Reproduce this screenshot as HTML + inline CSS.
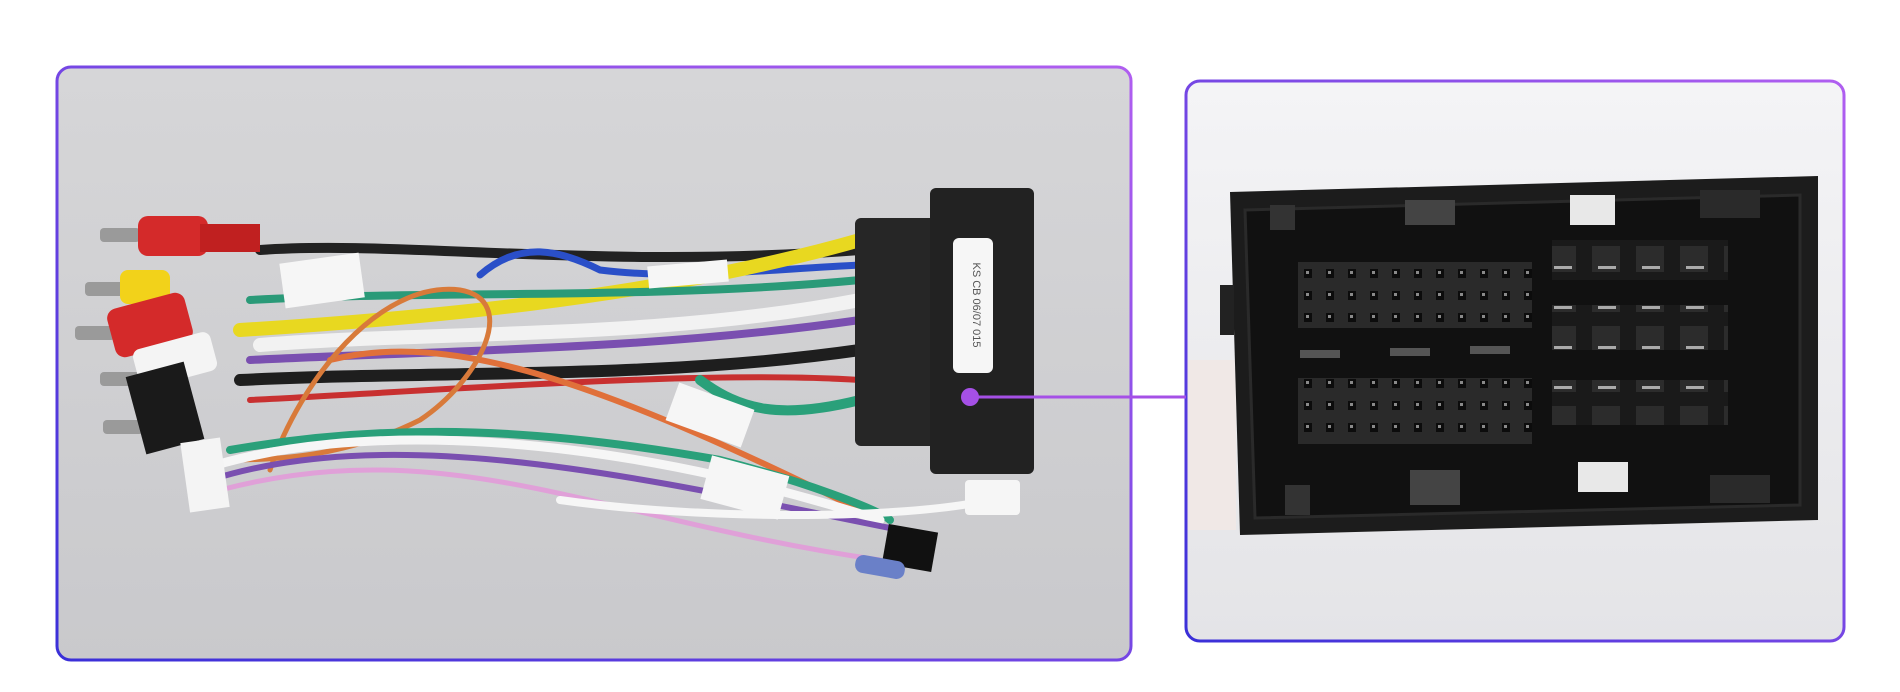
<!DOCTYPE html>
<html><head><meta charset="utf-8"><style>
html,body{margin:0;padding:0;background:#fff;width:1900px;height:692px;overflow:hidden}
</style></head><body>
<svg width="1900" height="692" viewBox="0 0 1900 692" xmlns="http://www.w3.org/2000/svg">
<defs>
<linearGradient id="bd" x1="0" y1="1" x2="1" y2="0">
<stop offset="0" stop-color="#3a2fd8"/><stop offset="1" stop-color="#b05ef0"/></linearGradient>
<linearGradient id="bgL" x1="0" y1="0" x2="0" y2="1"><stop offset="0" stop-color="#d6d6d8"/><stop offset="1" stop-color="#c9c9cc"/></linearGradient>
<linearGradient id="bgR" x1="0" y1="0" x2="0" y2="1"><stop offset="0" stop-color="#f4f4f6"/><stop offset="1" stop-color="#e4e4e7"/></linearGradient>
<clipPath id="cl"><rect x="57" y="67" width="1074" height="593" rx="14"/></clipPath>
<clipPath id="cr"><rect x="1186" y="81" width="658" height="560" rx="14"/></clipPath>
<pattern id="pins" width="22" height="22" patternUnits="userSpaceOnUse">
<rect width="22" height="22" fill="#2a2a2a"/><rect x="6" y="5" width="8" height="9" fill="#0c0c0c"/><rect x="8" y="7" width="3" height="3" fill="#8a8a8a"/></pattern>
<pattern id="pins2" width="44" height="40" patternUnits="userSpaceOnUse">
<rect width="44" height="40" fill="#1a1a1a"/><rect x="8" y="6" width="28" height="26" fill="#2c2c2c"/><rect x="14" y="26" width="18" height="3" fill="#aaa"/></pattern>
</defs>
<rect x="57" y="67" width="1074" height="593" rx="14" fill="url(#bgL)"/>
<g clip-path="url(#cl)" fill="none" stroke-linecap="round">
<path d="M260 250 C400 240 600 270 860 250" stroke="#222" stroke-width="10"/>
<path d="M480 275 C520 240 560 250 600 270 C680 280 760 270 860 265" stroke="#2a4fc8" stroke-width="7"/>
<path d="M240 330 C400 320 650 300 860 240" stroke="#e8d820" stroke-width="14"/>
<path d="M250 300 C420 290 650 300 860 280" stroke="#2a9a78" stroke-width="8"/>
<path d="M260 345 C450 330 650 340 860 300" stroke="#f2f2f2" stroke-width="14"/>
<path d="M250 360 C450 350 650 350 860 320" stroke="#7a4fb0" stroke-width="8"/>
<path d="M240 380 C450 370 650 380 860 350" stroke="#1e1e1e" stroke-width="12"/>
<path d="M250 400 C450 390 700 370 860 380" stroke="#c83030" stroke-width="6"/>
<path d="M700 380 C740 410 780 420 860 400" stroke="#2aa07a" stroke-width="10"/>
<path d="M330 360 C450 330 600 380 880 520" stroke="#e0703a" stroke-width="6"/>
<path d="M270 470 C300 380 380 280 460 290 C520 300 480 380 420 420 C360 450 300 460 230 460" stroke="#d87a3a" stroke-width="5"/>
<path d="M230 450 C400 420 550 430 720 460 C800 480 880 510 890 520" stroke="#2aa07a" stroke-width="8"/>
<path d="M200 470 C350 420 600 430 880 520" stroke="#f6f6f6" stroke-width="9"/>
<path d="M210 480 C400 420 650 480 900 530" stroke="#7a4fb0" stroke-width="6"/>
<path d="M220 490 C450 430 600 520 880 560" stroke="#e0a0d8" stroke-width="5"/>
<path d="M560 500 C700 520 900 520 990 500" stroke="#f6f6f6" stroke-width="8"/>
</g>
<g>
<rect x="100" y="228" width="40" height="14" fill="#9a9a9a" rx="4"/><rect x="138" y="216" width="70" height="40" rx="10" fill="#d42a2a"/><rect x="200" y="224" width="60" height="28" fill="#c02020"/>
<rect x="85" y="282" width="40" height="14" fill="#9a9a9a" rx="4"/><rect x="120" y="270" width="50" height="34" rx="8" fill="#f2d21a"/>
<rect x="75" y="326" width="40" height="14" fill="#9a9a9a" rx="4"/><rect x="110" y="300" width="80" height="50" rx="10" fill="#d42a2a" transform="rotate(-15 150 325)"/>
<rect x="100" y="372" width="40" height="14" fill="#9a9a9a" rx="4"/><rect x="135" y="340" width="80" height="40" rx="8" fill="#f4f4f4" transform="rotate(-15 175 360)"/>
<rect x="103" y="420" width="40" height="14" fill="#9a9a9a" rx="4"/><rect x="135" y="368" width="60" height="80" fill="#1a1a1a" transform="rotate(-15 165 408)"/>
<rect x="185" y="440" width="40" height="70" fill="#f4f4f4" transform="rotate(-8 205 475)"/>
</g>
<g fill="#f6f6f6">
<rect x="282" y="258" width="80" height="45" transform="rotate(-8 322 280)"/>
<rect x="648" y="263" width="80" height="22" transform="rotate(-5 688 274)"/>
<rect x="670" y="395" width="80" height="40" transform="rotate(20 710 415)"/>
<rect x="705" y="465" width="80" height="45" transform="rotate(15 745 487)"/>
<rect x="965" y="480" width="55" height="35" rx="4"/>
</g>
<rect x="885" y="528" width="50" height="40" fill="#111" transform="rotate(10 910 548)"/>
<rect x="855" y="558" width="50" height="18" rx="8" fill="#6a80c8" transform="rotate(10 880 567)"/>
<rect x="855" y="218" width="120" height="228" rx="6" fill="#262626"/>
<rect x="930" y="188" width="104" height="286" rx="6" fill="#222"/>
<rect x="953" y="238" width="40" height="135" rx="6" fill="#f6f6f6"/>
<text x="973" y="305" transform="rotate(90 973 305)" font-family="Liberation Sans, sans-serif" font-size="11" fill="#555" text-anchor="middle">KS CB 06/07 015</text>
<rect x="57" y="67" width="1074" height="593" rx="14" fill="none" stroke="url(#bd)" stroke-width="3"/>
<rect x="1186" y="81" width="658" height="560" rx="14" fill="url(#bgR)"/>
<g clip-path="url(#cr)">
<rect x="1186" y="360" width="50" height="170" fill="#f0e8e6"/>
<path d="M1230 192 L1818 176 L1818 520 L1240 535 Z" fill="#1c1c1c"/>
<path d="M1245 210 L1800 195 L1800 505 L1255 518 Z" fill="#111" stroke="#2a2a2a" stroke-width="3"/>
<rect x="1220" y="285" width="14" height="50" fill="#222"/>
<rect x="1405" y="200" width="50" height="25" fill="#444"/><rect x="1570" y="195" width="45" height="30" fill="#e8e8e8"/>
<rect x="1410" y="470" width="50" height="35" fill="#444"/><rect x="1578" y="462" width="50" height="30" fill="#e8e8e8"/>
<rect x="1270" y="205" width="25" height="25" fill="#333"/><rect x="1700" y="190" width="60" height="28" fill="#2a2a2a"/>
<rect x="1285" y="485" width="25" height="30" fill="#333"/><rect x="1710" y="475" width="60" height="28" fill="#2a2a2a"/>
<rect x="1298" y="262" width="234" height="66" fill="url(#pins)"/>
<rect x="1298" y="378" width="234" height="66" fill="url(#pins)"/>
<rect x="1552" y="240" width="176" height="40" fill="url(#pins2)"/>
<rect x="1552" y="305" width="176" height="45" fill="url(#pins2)"/>
<rect x="1552" y="380" width="176" height="45" fill="url(#pins2)"/>
<g fill="#555">
<rect x="1300" y="350" width="40" height="8"/><rect x="1390" y="348" width="40" height="8"/><rect x="1470" y="346" width="40" height="8"/>
</g>
</g>
<rect x="1186" y="81" width="658" height="560" rx="14" fill="none" stroke="url(#bd)" stroke-width="3"/>
<line x1="970" y1="397" x2="1186" y2="397" stroke="#a550e6" stroke-width="3"/>
<circle cx="970" cy="397" r="9" fill="#a550e6"/>
</svg>
</body></html>
